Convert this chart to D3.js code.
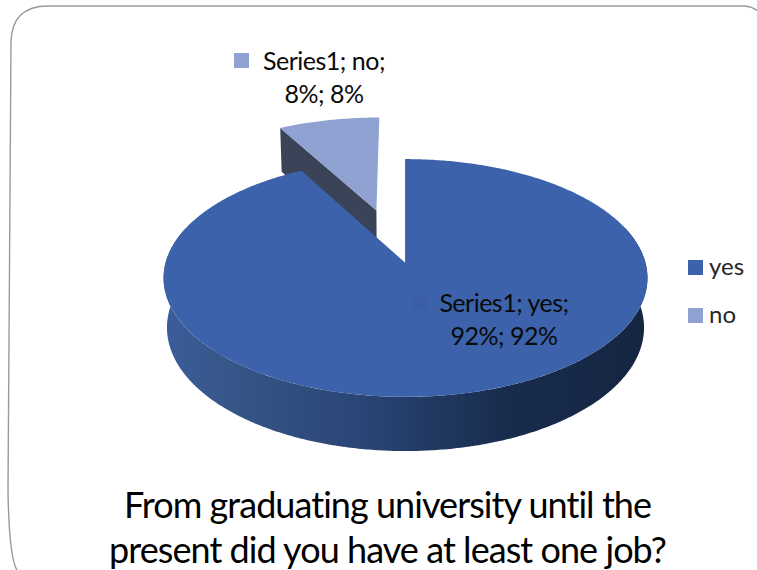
<!DOCTYPE html>
<html>
<head>
<meta charset="utf-8">
<style>
html, body { margin: 0; padding: 0; background: #fff; }
svg { display: block; }
text { font-family: Lato, "Noto Sans", sans-serif; }
</style>
<script src="https://cdn.jsdelivr.net/npm/d3@7/dist/d3.min.js"></script>
</head>
<body>
<svg id="chart" width="757" height="570"></svg>
<script>
const categories = ["yes", "no"];
const shares = [92, 8];
const colors = ["#3b62aa", "#8fa2d2"];
const titleLines = ["From graduating university until the", "present did you have at least one job?"];
const labelTexts = [["Series1; yes;", "92%; 92%"], ["Series1; no;", "8%; 8%"]];

const svg = d3.select("#chart");
const defs = svg.append("defs");

// Perspective pie: a point on the unit disc at (u, v), lowered by z, maps to the screen.
const view = { cx: 405.5, cy: 263, rx: 240, ry: 117, tilt: 0.126, shrink: 0.014, depth: 50 };
function project(u, v, z) {
  const s = 1 / (1 - view.tilt * v + view.shrink * z);
  return [view.cx + view.rx * u * s, view.cy + view.ry * v * s + view.depth * z * s];
}
const rim = (a, off) => [Math.sin(a) + off[0], -Math.cos(a) + off[1]];

const slices = d3.pie().sort(null).value(d => d)(shares);
const explode = [0, 0.49];
const sliceNudge = [0, -1.5];
const outline = d3.line().curve(d3.curveLinear);

// Sampled rim points of a slice between two angles, at a given depth.
function arcPoints(a0, a1, off, z) {
  const n = Math.max(2, Math.ceil(Math.abs(a1 - a0) / 0.01));
  return d3.range(n + 1).map(i => {
    const p = rim(a0 + (a1 - a0) * i / n, off);
    return project(p[0], p[1], z);
  });
}

const wallGrad = defs.append("linearGradient").attr("id", "wallShade")
  .attr("gradientUnits", "userSpaceOnUse")
  .attr("x1", view.cx - view.rx).attr("x2", view.cx + view.rx).attr("y1", 0).attr("y2", 0);
[[0, "#3a5d9b"], [0.12, "#375689"], [0.4, "#2a4676"], [0.72, "#182b4c"], [1, "#152642"]]
  .forEach(([o, c]) => wallGrad.append("stop").attr("offset", o).attr("stop-color", c));

const offsets = slices.map((d, i) => {
  const mid = (d.startAngle + d.endAngle) / 2;
  return [Math.sin(mid) * explode[i], -Math.cos(mid) * explode[i]];
});

// The exploded slice sits behind the main one, so it is painted first.
[1, 0].forEach(i => {
  const d = slices[i], off = offsets[i];
  const g = svg.append("g").attr("transform", `translate(${sliceNudge[i]},0)`);
  if (i === 1) {
    const rimStart = rim(d.startAngle, off);
    const top = [project(off[0], off[1], 0), project(rimStart[0], rimStart[1], 0)];
    const low = [project(rimStart[0], rimStart[1], 1), project(off[0], off[1], 1)];
    g.append("path").attr("d", outline([...top, ...low]) + "Z").attr("fill", "#3a4358");
  } else {
    const a0 = Math.PI * 0.4, a1 = Math.PI * 1.6;
    const wall = [...arcPoints(a0, a1, off, 0), ...arcPoints(a1, a0, off, 1)];
    g.append("path").attr("d", outline(wall) + "Z").attr("fill", "url(#wallShade)");
  }
  const face = [project(off[0], off[1], 0), ...arcPoints(d.startAngle, d.endAngle, off, 0)];
  g.append("path").attr("d", outline(face) + "Z").attr("fill", colors[i]);
  if (i === 0) {
    // Thin shaded edge where the main slice is cut open.
    const edge = rim(d.startAngle, off);
    g.append("path")
      .attr("d", outline([project(off[0], off[1], 0), project(edge[0], edge[1], 0)]))
      .attr("stroke", "#5a6f96").attr("stroke-width", 1).attr("fill", "none");
  }
});

// Rounded slide frame, cropped by the page edges.
svg.append("path")
  .attr("d", "M8,490 L11,42 Q12,6 48,6 L745,6 Q757,7 768,20 M8,490 Q9,560 18,572")
  .attr("fill", "none").attr("stroke", "#9a9a9a").attr("stroke-width", 1.4);

// Data labels
const labelAnchors = [{ x: 504, y: 312, key: [413, 295], keyFill: "#3a5fa6" }, { x: 324, y: 70, key: [234, 53], keyFill: colors[1] }];
labelAnchors.forEach((a, i) => {
  svg.append("rect").attr("x", a.key[0]).attr("y", a.key[1]).attr("width", 15).attr("height", 15).attr("fill", a.keyFill);
  labelTexts[i].forEach((line, j) => {
    svg.append("text").attr("x", a.x).attr("y", a.y + j * 33)
      .attr("text-anchor", "middle").attr("font-size", 25).attr("letter-spacing", -0.5)
      .attr("fill", "#0a0a0a").text(line);
  });
});

// Legend
const legendY = d3.scalePoint().domain(categories).range([268, 316]);
categories.forEach((c, i) => {
  svg.append("rect").attr("x", 688).attr("y", legendY(c) - 8).attr("width", 15).attr("height", 15).attr("fill", colors[i]);
  svg.append("text").attr("x", 709).attr("y", legendY(c) + 7).attr("font-size", 24).attr("fill", "#262626").text(c);
});

// Title
titleLines.forEach((line, j) => {
  svg.append("text").attr("x", 387.5).attr("y", 518 + j * 45)
    .attr("text-anchor", "middle").attr("font-size", 36).attr("letter-spacing", -0.95)
    .attr("fill", "#000").text(line);
});
</script>
</body>
</html>
